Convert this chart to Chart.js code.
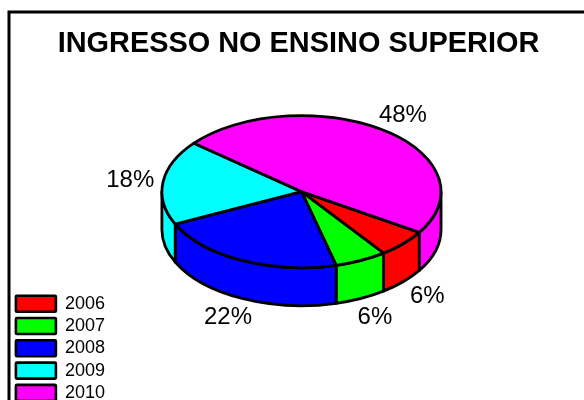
<!DOCTYPE html>
<html>
<head>
<meta charset="utf-8">
<title>Ingresso no ensino superior</title>
<script src="https://cdn.jsdelivr.net/npm/chart.js@4"></script>
<style>
    html, body { margin: 0; background: #fff; overflow: hidden; }
    canvas { display: block; }
</style>
</head>
<body>
<canvas id="chartIngresso" width="584" height="400"></canvas>
<script>
const anos = ['2006', '2007', '2008', '2009', '2010'];
const valores = [6, 6, 22, 18, 48];
const cores = ['#ff0000', '#00ff00', '#0000ff', '#00ffff', '#ff00ff'];

const achatamento = 0.545; // altura da elipse / largura
const profundidade = 38;
const fonte = '"Liberation Sans", Arial, sans-serif';

// moldura do grafico, cortada pela janela a direita e em baixo
const moldura = {
    id: 'moldura',
    beforeDraw(chart) {
        const ctx = chart.ctx;
        ctx.save();
        ctx.strokeStyle = '#000';
        ctx.lineWidth = 3;
        ctx.beginPath();
        ctx.moveTo(9, 400);
        ctx.lineTo(9, 12);
        ctx.lineTo(584, 12);
        ctx.stroke();
        ctx.restore();
    }
};

// titulo centrado na moldura e legenda no canto inferior, cortada pela janela
const ajusteLayout = {
    id: 'ajusteLayout',
    afterLayout(chart) {
        chart.titleBlock.left = 0;
        chart.titleBlock.right = 597;
        chart.legend.left = 11.6;
        chart.legend.top = 290.4;
        chart.legend.bottom = 500;
    }
};

function parede(ctx, arc, rx, ry, ini, fim) {
    ctx.beginPath();
    ctx.ellipse(arc.x, arc.y, rx, ry, 0, ini, fim);
    ctx.ellipse(arc.x, arc.y + profundidade, rx, ry, 0, fim, ini, true);
    ctx.closePath();
    ctx.fill();
    ctx.stroke();
}

// desenha os arcos calculados pelo Chart.js como uma pizza 3D
const pizza3d = {
    id: 'pizza3d',
    beforeDatasetDraw(chart, args) {
        const ctx = chart.ctx;
        const arcos = args.meta.data;
        ctx.save();
        ctx.strokeStyle = '#000';
        ctx.lineWidth = 2.8;
        ctx.lineJoin = 'round';

        arcos.forEach((arc, i) => {
            const rx = arc.outerRadius;
            const ry = rx * achatamento;
            ctx.fillStyle = cores[i];
            // so a parte da frente aparece (0 a PI e 2PI a 3PI)
            [0, 2 * Math.PI].forEach(base => {
                const ini = Math.max(arc.startAngle, base);
                const fim = Math.min(arc.endAngle, base + Math.PI);
                if (fim > ini) parede(ctx, arc, rx, ry, ini, fim);
            });
        });

        arcos.forEach((arc, i) => {
            const rx = arc.outerRadius;
            const ry = rx * achatamento;
            ctx.fillStyle = cores[i];
            ctx.beginPath();
            ctx.moveTo(arc.x, arc.y);
            ctx.ellipse(arc.x, arc.y, rx, ry, 0, arc.startAngle, arc.endAngle);
            ctx.closePath();
            ctx.fill();
            ctx.stroke();
        });

        ctx.fillStyle = '#000';
        ctx.font = '24px ' + fonte;
        ctx.textAlign = 'center';
        ctx.textBaseline = 'middle';
        arcos.forEach((arc, i) => {
            const rx = arc.outerRadius;
            const ry = rx * achatamento;
            const meio = (arc.startAngle + arc.endAngle) / 2;
            const c = Math.cos(meio);
            const s = Math.sin(meio);
            const x = arc.x + rx * c + c * 33;
            const y = arc.y + ry * s + (s > 0 ? profundidade : 0) + s * 20 + 1;
            ctx.fillText(valores[i] + '%', x, y);
        });

        ctx.restore();
        return false;
    }
};

new Chart(document.getElementById('chartIngresso'), {
    type: 'pie',
    data: {
        labels: anos,
        datasets: [{
            data: valores,
            backgroundColor: cores,
            borderWidth: 0
        }]
    },
    plugins: [moldura, ajusteLayout, pizza3d],
    options: {
        responsive: false,
        animation: false,
        rotation: 122.4,
        layout: { padding: { left: 15, right: 99.4, top: 0, bottom: 68.8 } },
        plugins: {
            tooltip: { enabled: false },
            title: {
                display: true,
                text: 'INGRESSO NO ENSINO SUPERIOR',
                color: '#000',
                font: { family: fonte, size: 28.9, weight: 'bold', lineHeight: 0.56 },
                padding: { top: 35.9, bottom: 0 }
            },
            legend: {
                position: 'left',
                align: 'start',
                labels: {
                    color: '#000',
                    font: { family: fonte, size: 18 },
                    boxWidth: 40,
                    boxHeight: 16,
                    padding: 4.3,
                    generateLabels: () => anos.map((ano, i) => ({
                        text: ano,
                        fillStyle: cores[i],
                        strokeStyle: '#000',
                        lineWidth: 2.6,
                        borderRadius: 1,
                        index: i
                    }))
                }
            }
        }
    }
});
</script>
</body>
</html>
